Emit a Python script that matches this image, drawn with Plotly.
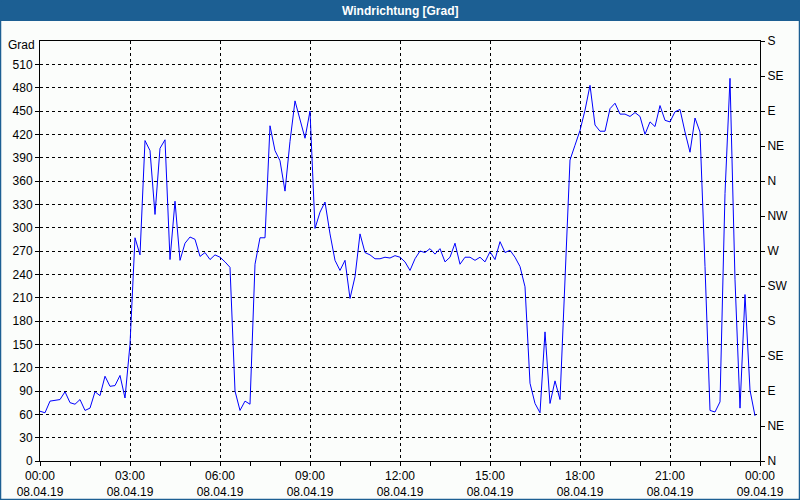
import plotly.graph_objects as go
import pandas as pd

# Wind direction, 10-minute samples from 08.04.19 00:00 to 23:50
wind_deg = [
    64, 62, 77, 78, 79, 89, 75, 73, 79, 65,
    68, 89, 84, 109, 96, 97, 110, 81, 150, 287,
    265, 412, 399, 317, 402, 413, 259, 334, 258, 280,
    288, 285, 263, 268, 259, 265, 262, 256, 249, 90,
    65, 77, 73, 253, 287, 287, 431, 399, 386, 347,
    411, 463, 440, 415, 450, 299, 320, 333, 292, 258,
    245, 258, 209, 237, 292, 268, 265, 260, 260, 262,
    261, 264, 262, 256, 245, 260, 270, 268, 273, 266,
    273, 256, 262, 280, 253, 262, 262, 258, 262, 256,
    269, 259, 282, 268, 271, 262, 250, 224, 100, 74,
    62, 166, 74, 103, 79, 240, 387, 406, 425, 451,
    483, 432, 424, 424, 453, 460, 446, 446, 443, 448,
    443, 420, 436, 430, 457, 438, 436, 449, 452, 423,
    397, 441, 423, 250, 65, 63, 76, 344, 492, 233,
    68, 214, 91, 58,
]
times = pd.date_range("2019-04-08 00:00", periods=len(wind_deg), freq="10min")

x_tick_times = pd.date_range("2019-04-08 00:00", "2019-04-09 00:00", freq="3h")
x_tick_text = [f"{t:%H:%M}<br>{t:%d.%m.%y}" for t in x_tick_times]

left_ticks = list(range(0, 511, 30))
right_ticks = list(range(0, 541, 45))
right_labels = ["N", "NE", "E", "SE", "S", "SW", "W", "NW", "N", "NE", "E", "SE", "S"]

FONT = "Liberation Sans"
TITLE_BLUE = "#1c5f93"

fig = go.Figure()
fig.add_trace(go.Scatter(x=times, y=wind_deg, mode="lines",
                         line=dict(color="#0000ff", width=1), showlegend=False,
                         hoverinfo="x+y"))
fig.add_trace(go.Scatter(x=[times[0]], y=[0], yaxis="y2", mode="markers",
                         marker=dict(opacity=0), showlegend=False, hoverinfo="skip"))

W, H = 800, 500
L, R, T, B = 40, 40, 41, 39
pw, ph = W - L - R, H - T - B

def px_x(x):
    return (x - L) / pw

def px_y(y):
    return (H - B - y) / ph

fig.update_layout(
    width=W, height=H,
    margin=dict(l=L, r=R, t=T, b=B, pad=0, autoexpand=False),
    paper_bgcolor="#fbfdfb", plot_bgcolor="#fbfdfb",
    font=dict(family=FONT, size=12, color="black"),
    xaxis=dict(
        type="date", automargin=False,
        range=["2019-04-08 00:00", "2019-04-09 00:00"],
        tickmode="array", tickvals=list(x_tick_times), ticktext=x_tick_text,
        ticks="outside", ticklen=4, tickcolor="black",
        showline=True, linecolor="black", linewidth=1, mirror=True,
        showgrid=True, gridcolor="black", gridwidth=1, griddash="3px,3px",
        minor=dict(ticks="outside", ticklen=4, tickcolor="black",
                   tick0="2019-04-08", dtick=3600000, showgrid=False),
        zeroline=False, fixedrange=True,
    ),
    yaxis=dict(
        automargin=False,
        range=[0, 540], tickmode="array", tickvals=left_ticks,
        ticks="outside", ticklen=4, tickcolor="black",
        showline=True, linecolor="black", linewidth=1,
        showgrid=True, gridcolor="black", gridwidth=1, griddash="3px,3px",
        zeroline=False, fixedrange=True,
    ),
    yaxis2=dict(
        automargin=False,
        overlaying="y", side="right",
        range=[0, 540], tickmode="array", tickvals=right_ticks, ticktext=right_labels,
        ticks="outside", ticklen=4, tickcolor="black",
        showline=True, linecolor="black", linewidth=1,
        showgrid=False, zeroline=False, fixedrange=True,
    ),
    shapes=[
        dict(type="rect", xref="paper", yref="paper",
             x0=px_x(0), x1=px_x(W), y0=px_y(21), y1=px_y(0),
             fillcolor=TITLE_BLUE, line=dict(width=0), layer="below"),
        dict(type="rect", xref="paper", yref="paper",
             x0=px_x(0.5), x1=px_x(W - 0.5), y0=px_y(H - 0.5), y1=px_y(0.5),
             fillcolor="rgba(0,0,0,0)", line=dict(color=TITLE_BLUE, width=1.5)),
    ],
    annotations=[
        dict(text="<b>Windrichtung [Grad]</b>", xref="paper", yref="paper",
             x=0.5, y=px_y(10.5), xanchor="center", yanchor="middle",
             showarrow=False, font=dict(family=FONT, size=12, color="white")),
        dict(text="Grad", xref="paper", yref="paper",
             x=px_x(37), y=px_y(45), xanchor="right", yanchor="middle",
             showarrow=False, font=dict(family=FONT, size=12, color="black")),
    ],
)

fig.write_html(
    "out.html",
    config={"displayModeBar": False},
    post_script="document.body.style.margin='0';document.body.style.overflow='hidden';",
)
